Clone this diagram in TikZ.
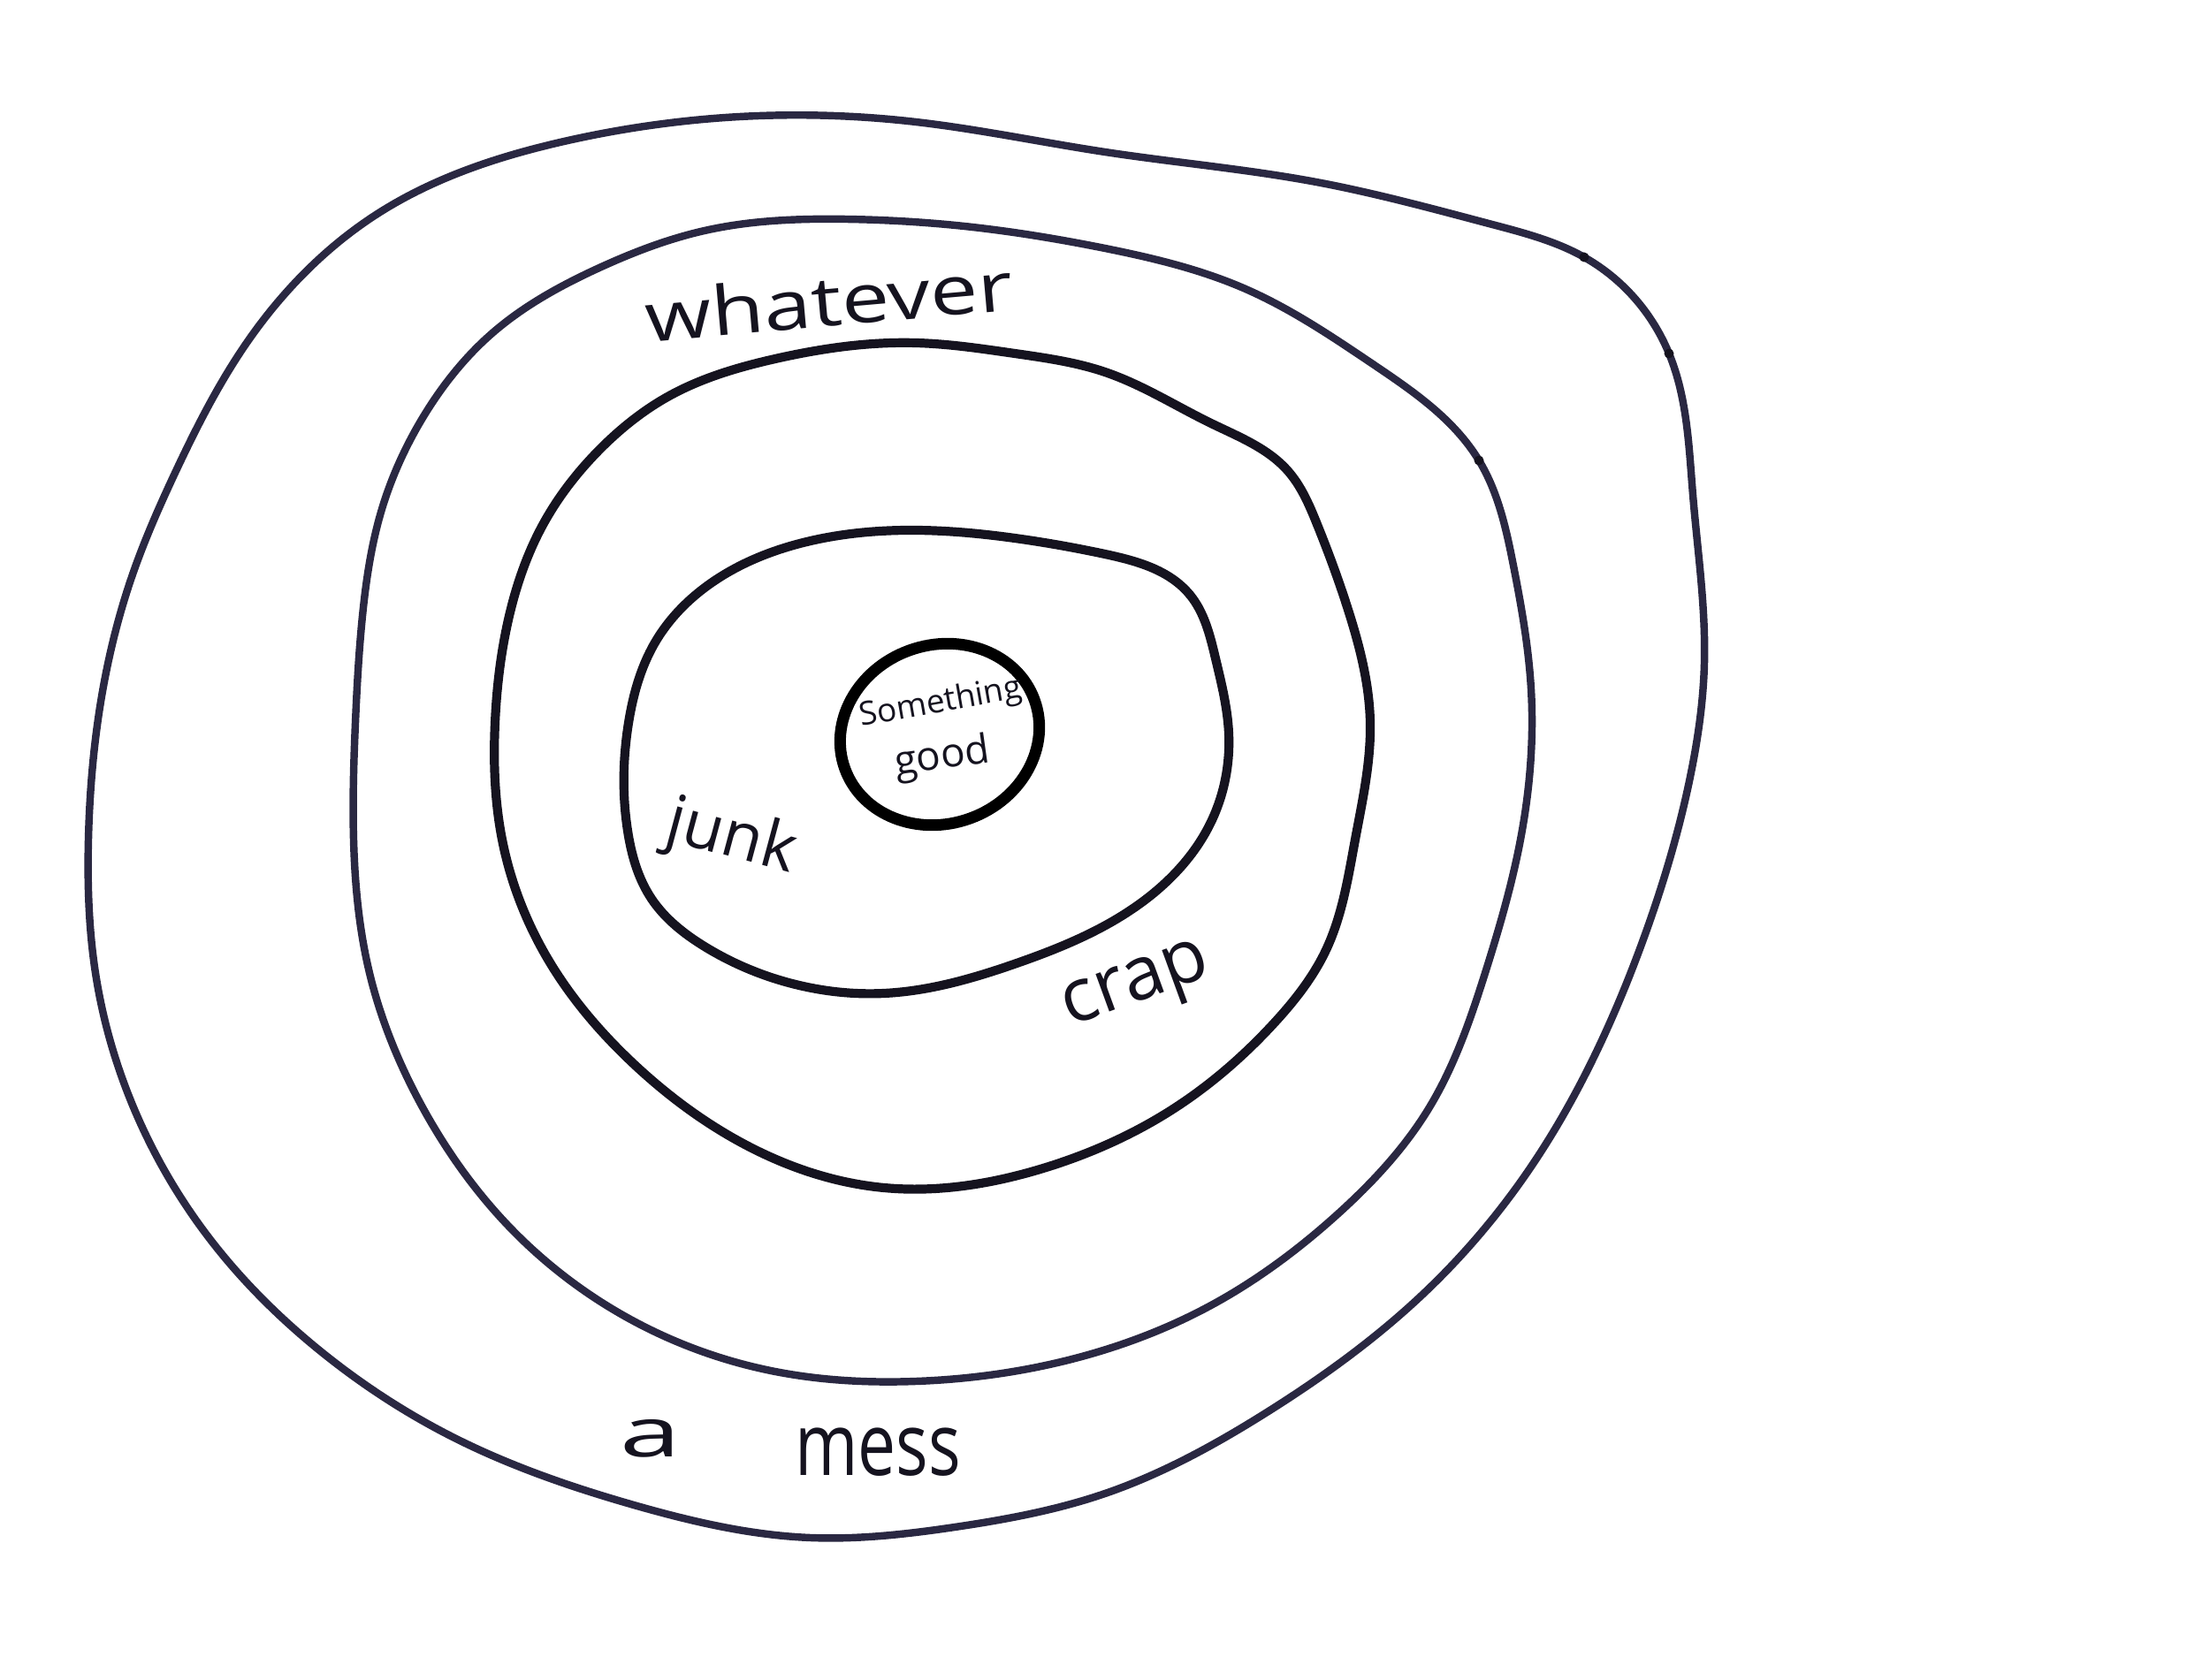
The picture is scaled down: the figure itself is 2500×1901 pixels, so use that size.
\documentclass[tikz,border=0pt]{standalone}
\usepackage{fontspec}
\setmainfont{Open Sans}
\usetikzlibrary{hobby}
\definecolor{ink}{HTML}{2A2842}
\definecolor{inkdark}{HTML}{15131F}
\begin{document}
\begin{tikzpicture}[x=0.01cm,y=-0.01cm,
  ring/.style={draw=ink, line width=2.4pt, line join=round},
  ringdark/.style={draw=inkdark, line width=2.9pt, line join=round},
  kink/.style={fill=inkdark, draw=none},
  lbl/.style={text=inkdark, inner sep=0pt}]
\fill[white] (0,0) rectangle (2500,1901);
\useasboundingbox (0,0) rectangle (2500,1901);
% outer ring
\draw[ring] plot[closed hobby] coordinates {
 (279,388) (430,240) (638,160) (837,132) (1036,138) (1250,172) (1489,206)
 (1688,254) (1792,291) (1888,400) (1915,560) (1928,750) (1912,879)
 (1856,1071) (1728,1326) (1609,1465) (1430,1600) (1250,1690) (1080,1728)
 (917,1740) (717,1703) (518,1629) (359,1526) (239,1404) (151,1253)
 (108,1101) (100,950) (115,788) (150,650) (199,533)};
% whatever ring
\draw[ring] plot[closed hobby] coordinates {
 (478,473) (558,376) (678,303) (797,261) (957,248) (1100,257) (1250,281)
 (1409,327) (1553,412) (1673,521) (1712,640) (1732,780) (1720,950)
 (1680,1101) (1617,1253) (1513,1374) (1370,1477) (1220,1536) (1036,1563)
 (877,1552) (717,1495) (574,1386) (478,1253) (418,1101) (400,950)
 (402,818) (410,697) (432,576)};
% crap ring
\draw[ringdark] plot[closed hobby] coordinates {
 (614,594) (678,509) (757,448) (877,406) (1036,388) (1148,400) (1250,421)
 (1370,479) (1457,533) (1489,591) (1525,690) (1550,818) (1533,950)
 (1500,1075) (1441,1158) (1330,1253) (1180,1322) (1000,1344) (837,1292)
 (717,1204) (622,1089) (568,950) (560,818) (576,697)};
% junk ring
\draw[ringdark] plot[closed hobby] coordinates {
 (711,818) (741,727) (813,654) (917,612) (1036,600) (1148,609) (1250,627)
 (1346,673) (1375,745) (1390,830) (1370,930) (1293,1020) (1150,1090)
 (1000,1124) (900,1114) (797,1071) (737,1017) (710,940)};
% pen blots
\fill[kink] (1792,291) circle [radius=0.055cm];
\fill[kink] (1888,400) circle [radius=0.055cm];
\fill[kink] (1673,521) circle [radius=0.055cm];
\fill[kink] (1489,591) circle [radius=0.05cm];
\fill[kink] (1346,673) circle [radius=0.05cm];
% center circle
\draw[draw=black, line width=3.7pt] (1063,831) ellipse [x radius=1.14cm, y radius=1.01cm, rotate=20];
% labels
\node[lbl, rotate=5] (whatever) at (938,340) {\fontsize{22}{26}\selectfont\scalebox{1.25}[1]{whatever}};
\node[lbl, rotate=20] (crap) at (1287,1120) {\fontsize{24}{28}\selectfont crap};
\node[lbl, rotate=-15] (junk) at (827,950) {\fontsize{21}{25}\selectfont junk};
\node[lbl] (a) at (736,1628) {\fontsize{22}{26}\selectfont\scalebox{1.6}[1]{a}};
\node[lbl] (mess) at (993,1643) {\fontsize{28}{32}\selectfont\scalebox{0.78}[1]{mess}};
\node[lbl, rotate=10] (something) at (1064,796) {\fontsize{10.5}{12}\selectfont Something};
\node[lbl, rotate=8] (good) at (1066,858) {\fontsize{13}{15}\selectfont good};
\end{tikzpicture}
\end{document}
